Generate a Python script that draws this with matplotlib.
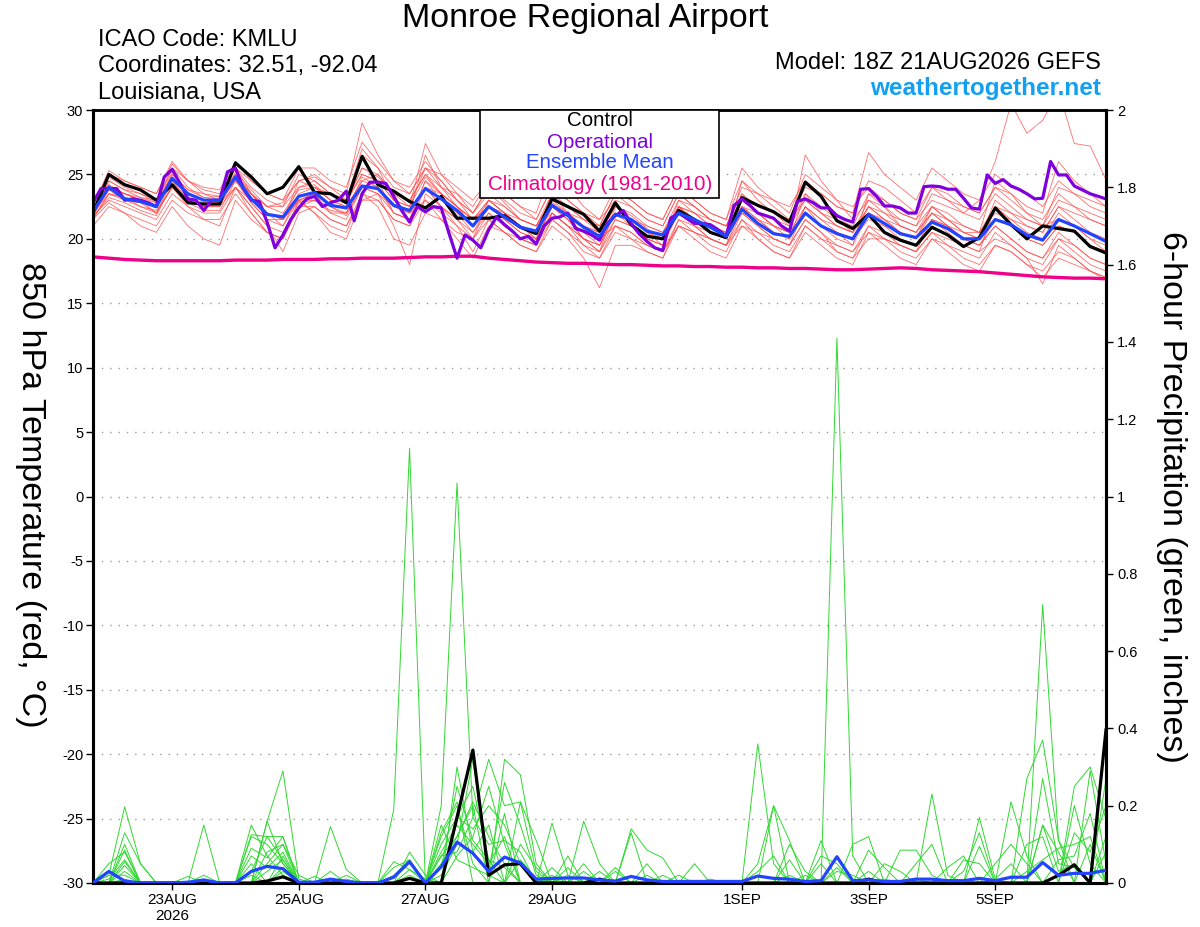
import numpy as np
import matplotlib
matplotlib.use("Agg")
import matplotlib.pyplot as plt
from matplotlib.patches import Rectangle

plt.rcParams['font.family'] = ['Liberation Sans', 'DejaVu Sans']

# ---------------- data ----------------
START = np.datetime64('2026-08-21T18:00')
N6 = 65      # 6-hourly points
N3 = 129     # 3-hourly points (operational)

CONTROL_T = [22.0, 25.0, 24.2, 23.8, 23.0, 24.2, 22.8, 22.7, 22.7, 25.9, 24.8, 23.5, 24.0, 25.6, 23.6, 23.5,
             22.8, 26.4, 24.2, 23.7, 22.9, 22.4, 23.3, 21.6, 21.6, 21.6, 21.8, 20.9, 20.4, 23.1, 22.5, 21.9,
             20.6, 22.8, 21.1, 20.2, 20.0, 22.2, 21.5, 20.5, 20.1, 23.2, 22.6, 22.1, 21.3, 24.4, 23.3, 21.4,
             20.8, 21.9, 20.5, 19.9, 19.5, 20.9, 20.3, 19.4, 20.1, 22.4, 21.1, 20.0, 21.0, 20.8, 20.6, 19.4,
             18.9]

MEAN_T = [22.1, 24.0, 23.1, 22.9, 22.5, 24.7, 23.5, 23.0, 23.0, 24.8, 23.1, 21.9, 21.7, 23.3, 23.6, 22.6,
          22.4, 24.1, 23.9, 22.6, 22.2, 23.9, 23.1, 22.2, 21.0, 22.5, 21.7, 20.9, 20.6, 22.6, 21.8, 20.9,
          20.2, 21.9, 21.5, 20.6, 20.3, 22.0, 21.5, 20.9, 20.2, 22.3, 21.2, 20.4, 20.2, 22.0, 21.0, 20.4,
          20.0, 21.9, 21.2, 20.4, 20.1, 21.3, 20.8, 20.0, 20.0, 21.5, 21.1, 20.3, 19.9, 21.5, 21.0, 20.4,
          19.8]

OPER_T = [22.8, 23.9, 23.9, 23.9, 23.0, 23.1, 23.0, 22.8, 22.5, 24.8, 25.4, 24.3, 23.1, 23.0, 22.2, 23.0,
          23.0, 25.2, 25.5, 23.9, 23.0, 22.9, 21.3, 19.3, 20.3, 21.5, 22.4, 23.1, 23.3, 22.5, 22.8, 23.0,
          23.7, 21.4, 23.5, 24.4, 24.4, 24.3, 23.3, 22.2, 21.3, 22.5, 22.1, 22.5, 22.4, 20.4, 18.5, 20.3,
          19.9, 19.3, 20.7, 21.7, 21.1, 20.6, 20.0, 20.2, 19.6, 21.0, 21.6, 21.7, 22.0, 20.8, 20.6, 20.3,
          19.9, 21.2, 21.8, 22.2, 21.2, 20.4, 19.8, 19.3, 19.1, 21.6, 22.0, 21.6, 21.2, 21.2, 21.1, 20.7,
          20.2, 22.6, 23.1, 22.6, 22.0, 21.8, 21.6, 21.0, 20.6, 22.9, 23.1, 22.8, 22.4, 22.4, 21.8, 21.5,
          21.3, 23.85, 23.9, 23.3, 22.55, 22.55, 22.4, 22.0, 22.0, 24.05, 24.1, 24.05, 23.85, 23.85, 23.15, 22.4,
          22.3, 24.96, 24.3, 24.6, 24.1, 23.85, 23.5, 23.1, 23.15, 26.0, 24.96, 24.96, 24.1, 23.8, 23.5, 23.3,
          23.1]

CLIMO_T = [18.6, 18.5, 18.4, 18.35, 18.3, 18.3, 18.3, 18.3, 18.3, 18.35, 18.35, 18.35, 18.4, 18.4, 18.4, 18.45,
           18.45, 18.5, 18.5, 18.5, 18.55, 18.6, 18.6, 18.65, 18.65, 18.5, 18.4, 18.3, 18.2, 18.15, 18.1, 18.1,
           18.05, 18.0, 18.0, 17.95, 17.9, 17.9, 17.85, 17.85, 17.8, 17.8, 17.75, 17.75, 17.7, 17.7, 17.65, 17.6,
           17.6, 17.65, 17.7, 17.75, 17.7, 17.6, 17.55, 17.5, 17.45, 17.35, 17.25, 17.15, 17.05, 17.0, 16.95, 16.95,
           16.9]

MEMBERS_T = [
    [22.0, 24.5, 23.8, 23.5, 22.8, 25.5, 24.0, 23.2, 23.0, 25.2, 23.8, 22.5, 22.8, 24.5, 24.8, 24.0,
     23.5, 29.0, 26.5, 24.5, 24.0, 26.0, 24.5, 23.0, 22.0, 24.0, 22.8, 21.5, 21.0, 23.5, 22.0, 21.0,
     20.5, 22.5, 21.8, 20.8, 20.0, 22.5, 21.5, 20.5, 20.0, 23.0, 22.0, 21.0, 20.5, 26.5, 24.5, 23.0,
     21.5, 23.0, 22.5, 21.0, 20.5, 22.0, 21.0, 20.0, 19.5, 21.0, 20.0, 19.0, 18.5, 20.5, 19.5, 18.5, 18.0],
    [21.5, 23.5, 23.0, 22.5, 22.0, 24.0, 23.0, 22.5, 22.8, 24.5, 23.0, 22.0, 21.5, 23.0, 23.5, 22.5,
     22.0, 24.5, 25.0, 23.5, 22.5, 27.4, 25.0, 23.5, 22.0, 23.5, 22.5, 21.5, 21.0, 23.0, 22.5, 21.5,
     21.0, 23.5, 22.5, 21.5, 21.0, 23.5, 22.5, 21.5, 21.0, 23.5, 22.5, 22.0, 21.5, 23.0, 22.0, 21.5,
     21.0, 23.5, 23.0, 22.0, 21.5, 23.0, 22.5, 22.0, 23.0, 26.0, 30.5, 28.2, 29.2, 31.5, 27.4, 27.2, 24.6],
    [21.8, 23.0, 22.5, 22.0, 21.5, 23.5, 22.5, 22.0, 22.0, 24.0, 22.5, 21.0, 19.0, 22.0, 22.5, 21.5,
     21.0, 23.0, 23.0, 21.5, 21.0, 23.0, 22.0, 21.0, 20.0, 21.5, 20.5, 19.5, 19.0, 21.0, 20.0, 18.5,
     16.2, 19.5, 19.5, 19.0, 18.5, 21.0, 20.5, 20.0, 19.5, 21.5, 20.5, 19.5, 19.0, 21.0, 20.0, 19.5,
     19.0, 20.5, 20.0, 19.0, 18.5, 20.0, 19.5, 18.5, 18.0, 19.5, 19.0, 18.0, 17.5, 19.0, 18.5, 17.5, 17.0],
    [22.3, 24.2, 23.5, 23.0, 22.6, 25.0, 23.8, 23.2, 23.3, 25.5, 23.5, 22.0, 21.5, 24.0, 24.2, 23.0,
     22.8, 25.0, 24.5, 23.0, 22.5, 25.5, 24.0, 23.0, 21.5, 23.0, 22.0, 21.0, 20.5, 22.8, 22.0, 21.0,
     20.5, 22.0, 21.5, 21.0, 20.5, 23.0, 22.0, 21.5, 21.0, 24.0, 23.5, 23.0, 22.5, 24.5, 23.5, 22.5,
     22.0, 26.7, 25.0, 24.0, 23.0, 25.5, 24.5, 23.5, 23.0, 25.0, 24.0, 23.5, 22.5, 24.5, 23.5, 22.5, 22.0],
    [21.0, 22.5, 22.0, 21.5, 21.0, 23.0, 22.0, 21.5, 21.5, 23.5, 22.0, 20.5, 20.0, 22.5, 22.5, 21.5,
     21.0, 23.5, 23.0, 21.5, 21.0, 24.0, 22.5, 21.0, 19.0, 21.5, 20.5, 19.5, 19.0, 21.5, 20.5, 19.0,
     18.5, 21.0, 20.0, 19.0, 18.5, 21.5, 20.5, 19.5, 19.0, 21.5, 20.0, 19.0, 18.5, 21.0, 20.0, 19.0,
     18.5, 21.0, 20.5, 19.5, 19.0, 20.5, 19.5, 19.0, 18.5, 20.5, 19.5, 18.5, 16.5, 19.5, 18.5, 17.5, 16.8],
    [22.5, 25.0, 24.5, 24.0, 23.5, 25.8, 24.5, 23.8, 23.5, 25.5, 24.0, 23.0, 22.5, 25.0, 24.5, 23.5,
     23.0, 27.0, 25.5, 23.0, 22.0, 26.5, 24.0, 22.5, 21.0, 23.0, 22.0, 21.0, 20.0, 22.5, 21.5, 20.0,
     19.5, 22.0, 21.0, 20.0, 19.5, 22.5, 21.5, 20.5, 20.0, 24.5, 23.0, 22.0, 21.0, 23.5, 22.5, 21.5,
     20.5, 22.5, 21.5, 20.5, 20.0, 22.5, 21.5, 20.5, 20.0, 23.0, 22.0, 21.0, 20.5, 22.5, 21.5, 20.5, 20.0],
    [21.8, 23.8, 23.0, 22.8, 22.0, 24.5, 23.0, 22.5, 22.5, 24.8, 22.8, 21.5, 21.0, 23.0, 23.5, 22.0,
     21.5, 24.0, 24.5, 22.0, 21.5, 24.5, 23.0, 22.0, 20.5, 22.5, 21.5, 20.5, 20.0, 22.0, 21.0, 20.0,
     19.5, 21.5, 21.0, 20.0, 19.5, 22.0, 21.0, 20.5, 20.0, 22.0, 21.0, 20.0, 19.5, 22.5, 21.0, 20.0,
     19.5, 22.0, 21.0, 20.0, 19.5, 21.5, 21.0, 20.0, 19.5, 21.0, 20.0, 19.0, 18.5, 20.0, 19.5, 18.5, 18.0],
    [22.2, 24.8, 24.0, 23.5, 23.0, 25.2, 23.5, 23.0, 23.0, 25.0, 23.5, 22.5, 22.0, 23.8, 24.0, 23.5,
     23.0, 25.5, 25.0, 23.5, 23.0, 25.0, 24.0, 23.5, 22.5, 24.5, 23.5, 22.5, 21.5, 24.0, 23.0, 22.0,
     21.5, 23.0, 22.5, 21.5, 21.0, 23.5, 22.5, 21.5, 21.0, 22.5, 22.0, 21.5, 21.0, 23.0, 22.0, 21.0,
     20.5, 22.0, 21.5, 21.0, 20.5, 22.5, 22.0, 21.0, 20.5, 22.5, 22.0, 21.5, 21.0, 23.0, 22.5, 22.0, 21.5],
    [21.6, 23.5, 23.2, 22.5, 22.2, 24.0, 23.2, 22.8, 22.8, 24.0, 22.5, 21.0, 20.5, 22.8, 23.0, 22.0,
     22.0, 24.8, 24.0, 22.5, 22.0, 24.0, 22.5, 21.5, 20.0, 22.0, 21.0, 20.0, 19.5, 22.0, 21.0, 20.5,
     20.0, 21.0, 20.5, 19.5, 19.0, 21.0, 20.5, 20.0, 19.5, 22.0, 21.0, 20.0, 19.5, 21.5, 20.5, 19.5,
     19.0, 21.0, 20.0, 19.5, 19.0, 21.5, 20.5, 19.5, 19.0, 22.5, 21.5, 20.5, 20.0, 22.0, 21.0, 20.0, 19.5],
    [22.0, 24.2, 23.0, 22.8, 22.5, 24.8, 23.5, 23.0, 22.8, 25.0, 23.5, 22.0, 21.0, 23.5, 24.0, 23.0,
     22.5, 24.5, 24.0, 22.0, 21.5, 24.5, 23.5, 22.5, 21.5, 23.0, 22.0, 21.5, 21.0, 23.0, 22.0, 21.5,
     20.5, 22.5, 22.0, 21.0, 20.5, 22.5, 22.0, 21.0, 20.5, 22.5, 21.5, 20.5, 20.0, 23.5, 22.0, 21.0,
     20.5, 23.0, 22.0, 21.0, 20.5, 22.0, 21.5, 20.5, 20.5, 24.5, 23.5, 22.0, 21.0, 21.5, 21.0, 20.0, 19.0],
    [22.4, 24.0, 23.5, 23.0, 22.5, 24.5, 23.0, 22.5, 22.5, 24.0, 22.0, 20.5, 20.0, 22.5, 23.0, 22.5,
     21.8, 24.0, 23.5, 21.0, 18.0, 23.5, 22.5, 21.5, 20.5, 22.0, 21.0, 20.0, 19.5, 21.5, 20.5, 19.5,
     19.0, 21.0, 20.5, 19.5, 19.0, 21.0, 20.0, 19.0, 18.5, 21.0, 20.0, 19.0, 18.5, 20.5, 19.5, 18.5,
     18.0, 20.5, 19.5, 18.5, 18.0, 20.0, 19.0, 18.0, 17.5, 19.5, 19.0, 18.0, 17.0, 18.5, 18.0, 17.5, 17.0],
    [21.9, 23.8, 23.5, 23.0, 22.5, 24.5, 23.5, 23.0, 23.0, 24.5, 23.5, 22.5, 22.5, 24.0, 24.5, 23.5,
     22.8, 25.5, 24.8, 23.5, 23.0, 25.0, 23.5, 22.5, 21.5, 22.5, 21.5, 21.0, 20.5, 23.5, 22.5, 21.5,
     21.0, 22.0, 21.5, 20.5, 20.0, 22.0, 21.5, 21.0, 20.5, 22.0, 21.5, 21.0, 20.5, 22.5, 21.5, 21.0,
     20.5, 22.5, 22.0, 21.5, 21.0, 22.5, 21.5, 21.0, 20.5, 22.0, 21.5, 21.0, 20.5, 22.5, 22.0, 21.5, 21.0],
    [22.0, 24.5, 23.8, 23.2, 22.8, 25.0, 23.8, 23.5, 23.3, 25.0, 23.5, 22.0, 21.5, 24.5, 25.0, 24.0,
     23.0, 25.0, 24.5, 23.0, 22.5, 24.8, 23.5, 22.5, 21.5, 22.5, 22.0, 21.0, 20.0, 22.5, 21.5, 20.0,
     19.0, 21.5, 21.0, 20.0, 19.5, 22.5, 22.0, 21.0, 20.5, 23.0, 22.0, 21.0, 20.5, 22.0, 21.0, 20.5,
     20.0, 21.5, 21.0, 20.5, 20.0, 21.5, 21.0, 20.5, 20.0, 21.5, 21.0, 20.0, 19.5, 21.0, 20.5, 19.5, 19.0],
    [21.7, 23.2, 22.8, 22.2, 21.8, 24.2, 22.8, 22.2, 22.2, 24.5, 22.8, 21.5, 21.5, 23.0, 23.0, 22.2,
     22.0, 24.0, 23.5, 22.0, 21.5, 24.0, 23.5, 22.5, 21.0, 22.5, 21.5, 20.5, 20.0, 22.5, 21.5, 20.5,
     19.5, 22.0, 21.5, 20.5, 20.0, 22.5, 21.0, 20.0, 19.5, 22.5, 21.5, 20.5, 20.0, 22.0, 21.0, 20.5,
     20.0, 22.5, 21.5, 20.5, 20.0, 22.0, 21.0, 20.0, 19.5, 21.5, 21.0, 20.0, 19.5, 21.0, 20.5, 19.5, 19.0],
    [21.5, 22.8, 22.0, 21.0, 20.5, 22.5, 21.0, 20.0, 19.5, 23.0, 21.5, 20.5, 20.0, 23.0, 22.0, 21.0,
     20.5, 23.5, 22.5, 20.0, 19.5, 22.0, 21.5, 20.0, 18.5, 21.0, 20.5, 20.0, 19.5, 22.0, 21.0, 20.0,
     19.0, 22.5, 21.5, 20.5, 19.5, 23.0, 22.5, 21.5, 21.0, 23.5, 22.0, 21.0, 20.0, 22.5, 21.5, 20.5,
     19.5, 23.5, 22.5, 21.5, 21.0, 23.5, 23.0, 22.5, 22.0, 24.0, 23.0, 22.0, 21.5, 23.5, 22.5, 21.5, 21.0],
    [22.2, 24.0, 23.5, 23.2, 23.0, 25.5, 24.5, 24.0, 23.8, 26.0, 24.5, 23.5, 23.0, 24.5, 24.0, 23.0,
     22.5, 26.5, 25.5, 24.0, 23.5, 25.5, 25.0, 24.0, 23.0, 24.5, 23.5, 22.5, 22.0, 25.5, 24.0, 22.5,
     21.5, 24.0, 23.0, 22.0, 21.5, 24.0, 23.0, 22.0, 21.5, 24.5, 23.5, 22.5, 21.5, 24.0, 23.5, 22.5,
     22.0, 24.5, 24.0, 23.0, 22.0, 24.0, 23.5, 22.5, 22.0, 24.0, 23.5, 22.5, 22.0, 26.0, 24.5, 23.5, 22.5],
    [22.0, 23.5, 23.2, 23.0, 22.0, 24.0, 22.5, 21.5, 21.0, 24.0, 23.0, 22.0, 21.5, 23.0, 22.0, 20.5,
     20.0, 23.0, 23.5, 22.5, 22.0, 23.0, 21.5, 20.5, 20.0, 23.0, 22.5, 21.5, 21.0, 22.0, 21.0, 19.5,
     18.5, 20.5, 20.0, 19.5, 19.0, 21.5, 21.0, 20.0, 19.5, 21.0, 20.5, 20.0, 19.5, 21.5, 20.5, 19.0,
     18.5, 20.0, 20.0, 19.5, 19.0, 20.5, 20.0, 19.5, 19.0, 20.0, 19.5, 18.5, 18.0, 20.0, 19.0, 18.0, 17.5],
    [22.6, 25.3, 24.5, 24.0, 23.5, 26.0, 24.5, 23.5, 23.0, 25.5, 24.5, 23.5, 23.0, 25.5, 25.5, 24.5,
     24.0, 27.5, 26.0, 24.5, 23.5, 25.5, 24.5, 23.0, 22.0, 24.0, 23.0, 22.0, 21.5, 24.0, 23.0, 22.0,
     21.0, 23.5, 23.0, 22.0, 21.5, 24.0, 23.0, 22.0, 21.5, 25.5, 24.0, 23.0, 22.0, 25.0, 24.0, 23.0,
     22.5, 24.0, 23.0, 22.0, 21.5, 24.0, 23.0, 22.0, 21.5, 23.5, 22.5, 21.5, 21.0, 24.0, 23.5, 23.0, 22.5],
]

CONTROL_P = [0, 0, 0, 0, 0, 0, 0, 0, 0, 0, 0, 0.005, 0.016, 0, 0, 0,
             0, 0, 0, 0, 0.012, 0, 0, 0.17, 0.344, 0.02, 0.047, 0.05, 0, 0, 0, 0,
             0.01, 0, 0, 0, 0, 0, 0, 0, 0, 0, 0, 0, 0, 0, 0, 0,
             0, 0.01, 0, 0, 0, 0, 0, 0, 0, 0, 0, 0, 0, 0.02, 0.047, 0, 0.396]

MEAN_P = [0, 0.03, 0.005, 0, 0, 0, 0.002, 0.008, 0, 0, 0.03, 0.043, 0.037, 0.002, 0.002, 0.01,
          0.004, 0, 0, 0.015, 0.055, 0, 0.042, 0.106, 0.077, 0.03, 0.067, 0.052, 0.01, 0.012, 0.013, 0.013,
          0.008, 0.005, 0.017, 0.008, 0.004, 0.004, 0.004, 0.004, 0.004, 0.004, 0.018, 0.012, 0.01, 0.004, 0.006, 0.068,
          0.006, 0.008, 0.004, 0.004, 0.01, 0.01, 0.006, 0.006, 0.012, 0.006, 0.015, 0.015, 0.053, 0.02, 0.025, 0.025,
          0.033]

# ensemble precipitation members: {6-hour step index: inches}, all other steps 0
MEMBERS_P = [
    {1: 0.02, 2: 0.197, 3: 0.05, 10: 0.15, 11: 0.07, 12: 0.02, 19: 0.19, 20: 1.125, 21: 0.0, 23: 0.17,
     24: 0.25, 25: 0.06, 29: 0.155, 30: 0.02, 42: 0.36, 43: 0.05, 56: 0.17, 57: 0.01},
    {2: 0.13, 3: 0.05, 7: 0.15, 11: 0.16, 12: 0.29, 13: 0.01, 22: 0.2, 23: 1.035, 24: 0.17, 25: 0.32,
     26: 0.2, 27: 0.21, 28: 0.11, 31: 0.16, 32: 0.05, 47: 1.41, 48: 0.07, 60: 0.72, 61: 0.11},
    {2: 0.085, 10: 0.125, 11: 0.12, 12: 0.12, 15: 0.146, 16: 0.035, 22: 0.13, 23: 0.21, 26: 0.32,
     27: 0.28, 28: 0.05, 34: 0.14, 35: 0.085, 36: 0.065, 53: 0.23, 54: 0.02},
    {2: 0.055, 10: 0.09, 11: 0.065, 12: 0.12, 19: 0.055, 20: 0.035, 22: 0.1, 23: 0.17, 24: 0.14,
     25: 0.2, 26: 0.15, 27: 0.05, 31: 0.05, 38: 0.05, 43: 0.2, 44: 0.11, 58: 0.21, 59: 0.07,
     62: 0.25, 63: 0.3, 64: 0.165},
    {2: 0.045, 6: 0.017, 10: 0.07, 11: 0.04, 12: 0.08, 14: 0.017, 22: 0.07, 23: 0.12, 24: 0.21,
     25: 0.12, 26: 0.05, 29: 0.02, 34: 0.13, 44: 0.06, 46: 0.11, 49: 0.085, 50: 0.04, 56: 0.095,
     63: 0.29, 64: 0.05},
    {1: 0.02, 2: 0.02, 11: 0.16, 12: 0.05, 20: 0.035, 21: 0.01, 23: 0.3, 24: 0.08, 25: 0.15, 27: 0.21,
     28: 0.03, 30: 0.04, 35: 0.05, 46: 0.05, 51: 0.085, 52: 0.085, 53: 0.02, 60: 0.27, 61: 0.05, 62: 0.04},
    {2: 0.03, 10: 0.03, 11: 0.12, 12: 0.06, 16: 0.02, 19: 0.02, 20: 0.06, 22: 0.07, 23: 0.08, 24: 0.17,
     25: 0.1, 26: 0.11, 27: 0.08, 32: 0.03, 42: 0.05, 43: 0.2, 55: 0.06, 56: 0.05, 59: 0.27, 60: 0.37,
     61: 0.11, 62: 0.04, 64: 0.08},
    {2: 0.01, 10: 0.05, 12: 0.03, 15: 0.03, 22: 0.04, 23: 0.25, 24: 0.11, 25: 0.06, 26: 0.04, 29: 0.01,
     33: 0.04, 49: 0.03, 52: 0.01, 57: 0.01, 58: 0.05, 62: 0.13, 63: 0.08, 64: 0.2},
    {12: 0.04, 20: 0.02, 22: 0.02, 23: 0.1, 24: 0.32, 25: 0.03, 26: 0.26, 27: 0.15, 28: 0.02, 36: 0.02,
     47: 0.03, 48: 0.02, 59: 0.03, 60: 0.06, 61: 0.09, 62: 0.1, 63: 0.12},
    {2: 0.005, 11: 0.05, 12: 0.1, 13: 0.02, 16: 0.01, 22: 0.15, 23: 0.06, 24: 0.04, 25: 0.02, 27: 0.06,
     28: 0.01, 30: 0.02, 44: 0.02, 50: 0.01, 57: 0.005, 60: 0.15, 61: 0.03, 62: 0.05, 64: 0.12},
    {1: 0.05, 2: 0.08, 10: 0.12, 11: 0.1, 12: 0.05, 22: 0.05, 23: 0.12, 24: 0.2, 26: 0.18, 30: 0.07,
     37: 0.02, 44: 0.1, 45: 0.03, 48: 0.1, 49: 0.12, 55: 0.03, 56: 0.13, 60: 0.15, 61: 0.08, 63: 0.1},
    {2: 0.1, 7: 0.02, 11: 0.08, 12: 0.1, 20: 0.08, 21: 0.02, 23: 0.07, 24: 0.12, 25: 0.25, 26: 0.1,
     31: 0.03, 39: 0.01, 46: 0.07, 47: 0.05, 52: 0.05, 53: 0.1, 59: 0.1, 60: 0.12, 62: 0.2, 63: 0.05},
    {1: 0.01, 2: 0.06, 10: 0.02, 12: 0.07, 19: 0.04, 20: 0.06, 22: 0.12, 23: 0.2, 24: 0.05, 27: 0.1,
     28: 0.04, 33: 0.03, 42: 0.03, 43: 0.07, 50: 0.05, 51: 0.03, 57: 0.05, 58: 0.1, 59: 0.05, 64: 0.27},
    {11: 0.03, 12: 0.06, 22: 0.08, 23: 0.15, 24: 0.1, 25: 0.05, 26: 0.12, 29: 0.04, 35: 0.02, 45: 0.02,
     47: 0.04, 54: 0.04, 55: 0.07, 61: 0.06, 62: 0.07, 63: 0.18},
]

TICK_DATES = ['2026-08-23', '2026-08-25', '2026-08-27', '2026-08-29', '2026-09-01', '2026-09-03', '2026-09-05']
TICK_LABELS = ['23AUG\n2026', '25AUG', '27AUG', '29AUG', '1SEP', '3SEP', '5SEP']
T_TICKS = [-30, -25, -20, -15, -10, -5, 0, 5, 10, 15, 20, 25, 30]
P_TICKS = [0, 0.2, 0.4, 0.6, 0.8, 1.0, 1.2, 1.4, 1.6, 1.8, 2.0]
P_TICK_LABELS = ['0', '0.2', '0.4', '0.6', '0.8', '1', '1.2', '1.4', '1.6', '1.8', '2']

# ---------------- times ----------------
t6 = START + np.arange(N6) * np.timedelta64(6, 'h')
t3 = START + np.arange(N3) * np.timedelta64(3, 'h')

# ---------------- figure ----------------
fig = plt.figure(figsize=(12, 9.27), dpi=100)
ax = fig.add_axes([93 / 1200, 44 / 927, (1106 - 93) / 1200, (883 - 110) / 927])
ax2 = ax.twinx()

RED = '#ff4a4a'
GREEN = '#30d830'
BLACK = '#000000'
PURPLE = '#8000dd'
BLUE = '#2244ff'
PINK = '#ee0088'

# temperature
for m in MEMBERS_T:
    ax.plot(t6, m, color=RED, lw=0.6, alpha=0.8, zorder=2)
ax.plot(t6, CLIMO_T, color=PINK, lw=2.4, zorder=3)
ax.plot(t6, CONTROL_T, color=BLACK, lw=2.3, zorder=4)
ax.plot(t3, OPER_T, color=PURPLE, lw=2.3, zorder=5)
ax.plot(t6, MEAN_T, color=BLUE, lw=2.3, zorder=6)

# precipitation
for d in MEMBERS_P:
    vals = np.zeros(N6)
    for k, v in d.items():
        vals[k] = v
    ax2.plot(t6, vals, color=GREEN, lw=0.7, zorder=2)
ax2.plot(t6, CONTROL_P, color=BLACK, lw=2.3, zorder=4)
ax2.plot(t6, MEAN_P, color=BLUE, lw=2.3, zorder=5)

# axes
ax.set_xlim(t6[0], t6[-1])
ax.set_ylim(-30, 30)
ax2.set_ylim(0, 2)
ax.set_yticks(T_TICKS)
ax.set_yticklabels([str(v) for v in T_TICKS], fontsize=10.5)
ax2.set_yticks(P_TICKS)
ax2.set_yticklabels(P_TICK_LABELS, fontsize=10.5)
ax.set_xticks([np.datetime64(d + 'T00:00') for d in TICK_DATES])
ax.set_xticklabels(TICK_LABELS, fontsize=11)

ax.grid(axis='y', linestyle=(0, (1, 5)), color='#999999', lw=1.0)
ax.set_axisbelow(True)
ax.tick_params(axis='y', direction='out', length=5, width=1, pad=2)
ax.tick_params(axis='x', direction='out', length=5, width=1, pad=2)
ax2.tick_params(axis='y', direction='out', length=5, width=1, pad=3)

for sp in ['left', 'bottom', 'right']:
    ax.spines[sp].set_linewidth(2.2)
    ax2.spines[sp].set_linewidth(2.2)
ax.spines['top'].set_linewidth(1.8)
ax2.spines['top'].set_linewidth(1.8)

fig.text(30 / 1200, 1 - 495 / 927, '850 hPa Temperature (red, °C)', rotation=270,
         ha='center', va='center', fontsize=24.5)
fig.text(1172 / 1200, 1 - 497 / 927, '6-hour Precipitation (green, inches)', rotation=270,
         ha='center', va='center', fontsize=24.5)

# header
fig.text(585 / 1200, 1 - 18 / 927, 'Monroe Regional Airport', ha='center', va='center', fontsize=24.5)
fig.text(98 / 1200, 1 - 40 / 927, 'ICAO Code: KMLU', ha='left', va='center', fontsize=17)
fig.text(98 / 1200, 1 - 66 / 927, 'Coordinates: 32.51, -92.04', ha='left', va='center', fontsize=17)
fig.text(98 / 1200, 1 - 93 / 927, 'Louisiana, USA', ha='left', va='center', fontsize=17)
fig.text(1101 / 1200, 1 - 63 / 927, 'Model: 18Z 21AUG2026 GEFS', ha='right', va='center', fontsize=17)
fig.text(1101 / 1200, 1 - 89 / 927, 'weathertogether.net', ha='right', va='center', fontsize=17.5,
         fontweight='bold', color='#14a0f0')

# legend box
box = Rectangle((480 / 1200, 1 - 198 / 927), (719 - 480) / 1200, (198 - 110) / 927,
                transform=fig.transFigure, facecolor='white', edgecolor='black', lw=1.2, zorder=10)
fig.add_artist(box)
leg = [('Control', BLACK, 121), ('Operational', PURPLE, 142), ('Ensemble Mean', BLUE, 163),
       ('Climatology (1981-2010)', PINK, 185)]
for txt, col, yy in leg:
    t = fig.text(600 / 1200, 1 - yy / 927, txt, ha='center', va='center', fontsize=14.8, color=col)
    t.set_zorder(11)

fig.savefig('out.png', dpi=100)
